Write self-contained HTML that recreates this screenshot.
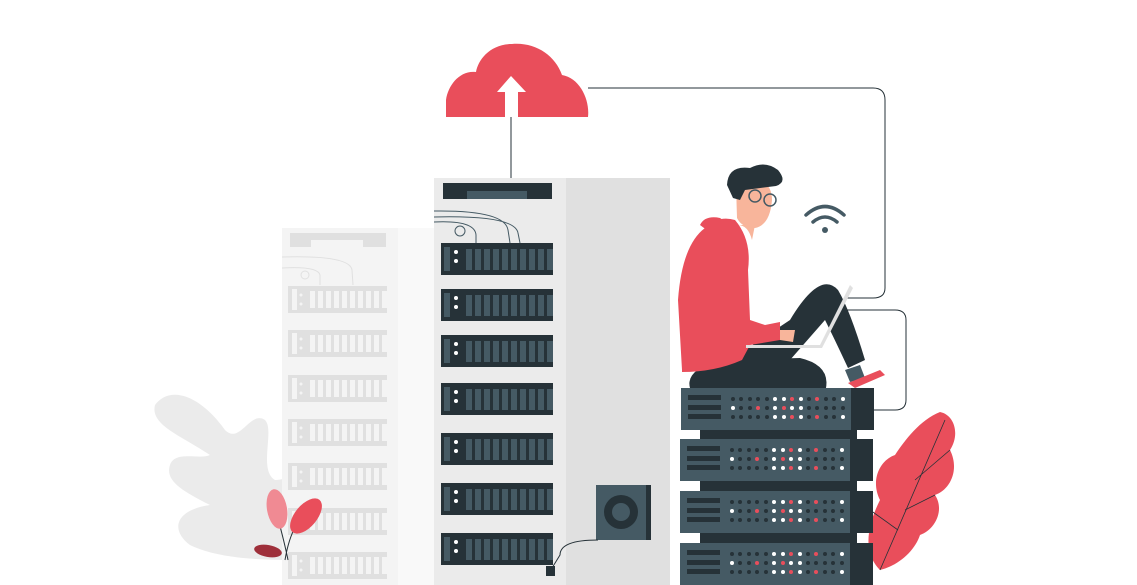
<!DOCTYPE html>
<html><head><meta charset="utf-8"><style>html,body{margin:0;padding:0;background:#fff}svg{display:block}</style></head>
<body>
<svg width="1137" height="585" viewBox="0 0 1137 585" xmlns="http://www.w3.org/2000/svg">
<defs>
<g id="fu">
<rect x="0" y="0" width="99" height="27" fill="#e0e0e0"/>
<rect x="4" y="3" width="5" height="21" fill="#f4f4f4"/>
<circle cx="13" cy="9" r="1.5" fill="#f4f4f4"/><circle cx="13" cy="18" r="1.5" fill="#f4f4f4"/>
<g fill="#f4f4f4"><rect x="22" y="5" width="5" height="17"/><rect x="30" y="5" width="5" height="17"/><rect x="38" y="5" width="5" height="17"/><rect x="46" y="5" width="5" height="17"/><rect x="54" y="5" width="5" height="17"/><rect x="62" y="5" width="5" height="17"/><rect x="70" y="5" width="5" height="17"/><rect x="78" y="5" width="5" height="17"/><rect x="86" y="5" width="5" height="17"/><rect x="94" y="5" width="5" height="17"/></g>
</g>
<g id="su">
<rect x="0" y="0" width="112" height="32" fill="#263238"/>
<rect x="3" y="4" width="6" height="24" fill="#455a64"/>
<circle cx="15" cy="9" r="2" fill="#fff"/><circle cx="15" cy="18" r="2" fill="#fff"/>
<g fill="#455a64"><rect x="25" y="6" width="6" height="21"/><rect x="34" y="6" width="6" height="21"/><rect x="43" y="6" width="6" height="21"/><rect x="52" y="6" width="6" height="21"/><rect x="61" y="6" width="6" height="21"/><rect x="70" y="6" width="6" height="21"/><rect x="79" y="6" width="6" height="21"/><rect x="88" y="6" width="6" height="21"/><rect x="97" y="6" width="6" height="21"/><rect x="106" y="6" width="6" height="21"/></g>
</g>
<g id="dotrow">
<circle cx="0" cy="0" r="2" fill="#263238"/><circle cx="8" cy="0" r="2" fill="#263238"/><circle cx="17" cy="0" r="2" fill="#263238"/><circle cx="25" cy="0" r="2" fill="#263238"/><circle cx="34" cy="0" r="2" fill="#263238"/><circle cx="42" cy="0" r="2" fill="#fff"/><circle cx="51" cy="0" r="2" fill="#fff"/><circle cx="59" cy="0" r="2" fill="#e94e5b"/><circle cx="68" cy="0" r="2" fill="#fff"/><circle cx="76" cy="0" r="2" fill="#263238"/><circle cx="84" cy="0" r="2" fill="#e94e5b"/><circle cx="93" cy="0" r="2" fill="#263238"/><circle cx="101" cy="0" r="2" fill="#263238"/><circle cx="110" cy="0" r="2" fill="#fff"/>
</g>
<g id="dotrow2">
<circle cx="0" cy="0" r="2" fill="#fff"/><circle cx="8" cy="0" r="2" fill="#263238"/><circle cx="17" cy="0" r="2" fill="#263238"/><circle cx="25" cy="0" r="2" fill="#e94e5b"/><circle cx="34" cy="0" r="2" fill="#263238"/><circle cx="42" cy="0" r="2" fill="#fff"/><circle cx="51" cy="0" r="2" fill="#e94e5b"/><circle cx="59" cy="0" r="2" fill="#fff"/><circle cx="68" cy="0" r="2" fill="#fff"/><circle cx="76" cy="0" r="2" fill="#263238"/><circle cx="84" cy="0" r="2" fill="#263238"/><circle cx="93" cy="0" r="2" fill="#263238"/><circle cx="101" cy="0" r="2" fill="#263238"/><circle cx="110" cy="0" r="2" fill="#263238"/>
</g>
<g id="ru">
<rect x="0" y="0" width="193" height="42" fill="#263238"/>
<rect x="0" y="0" width="170" height="42" fill="#455a64"/>
<rect x="7" y="7" width="33" height="5" fill="#263238"/><rect x="7" y="17" width="33" height="5" fill="#263238"/><rect x="7" y="26" width="33" height="5" fill="#263238"/>
<use href="#dotrow" x="52" y="11"/><use href="#dotrow2" x="52" y="20"/><use href="#dotrow" x="52" y="29"/>
</g>
</defs>

<!-- grey leaf -->
<path d="M155 405 C170 385 200 395 225 430 C240 445 250 410 265 420 C275 430 258 470 275 480 C290 480 290 470 300 470 L300 560 C270 560 220 560 190 545 C170 530 175 510 210 505 C180 490 165 480 170 465 C175 450 200 460 210 455 C180 435 150 425 155 405 Z" fill="#ebebeb"/>

<!-- faded tower -->
<rect x="282" y="228" width="116" height="357" fill="#f4f4f4"/>
<rect x="398" y="228" width="36" height="357" fill="#f9f9f9"/>
<rect x="290" y="233" width="96" height="14" fill="#e0e0e0"/>
<rect x="311" y="240" width="52" height="7" fill="#f4f4f4"/>
<path d="M282 257 Q350 255 352 270 L353 285 M282 268 Q318 266 320 275 L320 285" fill="none" stroke="#e0e0e0"/>
<circle cx="305" cy="275" r="4" fill="none" stroke="#e0e0e0"/>
<use href="#fu" x="288" y="286"/><use href="#fu" x="288" y="330"/><use href="#fu" x="288" y="375"/><use href="#fu" x="288" y="419"/><use href="#fu" x="288" y="463"/><use href="#fu" x="288" y="508"/><use href="#fu" x="288" y="552"/>

<!-- small plant -->
<path d="M288 560 C282 530 275 510 272 495" stroke="#263238" fill="none"/>
<path d="M285 560 C290 530 300 515 315 505" stroke="#263238" fill="none"/>
<ellipse cx="277" cy="509" rx="10" ry="20" transform="rotate(-10 277 509)" fill="#f08a93"/>
<ellipse cx="306" cy="516" rx="11" ry="21" transform="rotate(40 306 516)" fill="#e94e5b"/>
<ellipse cx="268" cy="551" rx="14" ry="6" transform="rotate(10 268 551)" fill="#9e2f3a"/>

<!-- main tower -->
<rect x="434" y="178" width="133" height="407" fill="#ebebeb"/>
<rect x="566" y="178" width="104" height="407" fill="#e0e0e0"/>
<rect x="443" y="183" width="109" height="16" fill="#263238"/>
<rect x="467" y="191" width="60" height="8" fill="#455a64"/>
<path d="M434 211 Q505 210 508 230 L510 243 M434 217 Q515 215 518 233 L520 243 M434 222 Q475 220 476 235 L476 243" fill="none" stroke="#455a64" stroke-width="1"/>
<circle cx="460" cy="231" r="5" fill="none" stroke="#455a64"/>
<use href="#su" x="441" y="243"/><use href="#su" x="441" y="289"/><use href="#su" x="441" y="335"/><use href="#su" x="441" y="383"/><use href="#su" x="441" y="433"/><use href="#su" x="441" y="483"/><use href="#su" x="441" y="533"/>

<!-- fan -->
<rect x="596" y="485" width="54" height="55" fill="#455a64"/>
<rect x="646" y="485" width="5" height="55" fill="#263238"/>
<circle cx="621" cy="512" r="17" fill="#263238"/><circle cx="621" cy="512" r="9" fill="#455a64"/>
<path d="M598 540 Q560 540 560 555 L552 568" fill="none" stroke="#263238"/>
<rect x="546" y="566" width="9" height="10" fill="#263238"/>

<!-- cloud -->
<path d="M446 117 L588 117 C590 100 580 78 562 75 C555 55 535 42 512 44 C490 44 478 60 476 72 C460 70 448 85 446 100 Z" fill="#e94e5b"/>
<path d="M511 76 L497 92 L505 92 L505 117 L518 117 L518 92 L526 92 Z" fill="#fff"/>
<line x1="511" y1="117" x2="511" y2="178" stroke="#263238"/>
<path d="M588 88 L873 88 Q885 88 885 100 L885 288 Q885 298 873 298 L845 298" fill="none" stroke="#263238" stroke-width="1"/>
<path d="M840 310 L895 310 Q906 310 906 320 L906 400 Q906 410 895 410 L873 410" fill="none" stroke="#263238" stroke-width="1"/>

<!-- wifi -->
<g fill="none" stroke="#455a64" stroke-width="3.5" stroke-linecap="round">
<path d="M806 215 Q825 198 844 215"/><path d="M813 222 Q825 212 837 222"/>
</g>
<circle cx="825" cy="230" r="3" fill="#455a64"/>

<!-- right red leaf -->
<path d="M880 570 C860 550 870 520 880 500 C870 480 880 460 895 455 C905 440 920 420 940 412 C955 415 960 435 950 450 C960 470 950 490 935 495 C945 510 935 530 920 535 C915 550 900 565 880 570 Z" fill="#e94e5b"/>
<path d="M880 570 L945 420 M905 510 L935 495 M915 480 L950 450 M898 530 L870 510" stroke="#263238" stroke-width="0.8" fill="none"/>

<!-- right server stack -->
<rect x="700" y="425" width="157" height="160" fill="#263238"/>
<use href="#ru" x="681" y="388"/><use href="#ru" x="680" y="439"/><use href="#ru" x="680" y="491"/><use href="#ru" x="680" y="543"/>

<!-- person -->
<path d="M690 388 Q685 370 720 360 L800 358 Q830 365 826 388 Z" fill="#263238"/>
<path d="M730 360 L790 320 Q820 270 838 290 Q850 310 865 360 L848 368 Q835 340 825 320 L790 360 Z" fill="#263238"/>
<path d="M682 370 L678 300 Q682 245 705 228 Q718 215 735 220 Q752 240 748 270 L750 320 L765 325 L780 322 L780 340 L750 345 L742 360 Q715 372 682 372 Z" fill="#e94e5b"/>
<path d="M700 225 Q705 215 720 218 L738 230 L720 240 Z" fill="#e94e5b"/>
<path d="M738 225 Q748 225 752 240 L755 225 Z" fill="#f8b59b"/>
<path d="M736 185 Q740 178 760 180 Q772 185 772 200 Q770 225 755 228 Q742 228 737 218 Z" fill="#f8b59b"/>
<path d="M727 185 Q728 165 750 168 Q765 160 778 170 Q788 182 776 186 L745 190 L740 200 L733 198 Z" fill="#263238"/>
<circle cx="755" cy="196" r="6" fill="none" stroke="#455a64" stroke-width="1.5"/>
<circle cx="770" cy="200" r="6" fill="none" stroke="#455a64" stroke-width="1.5"/>
<path d="M780 330 L795 330 L793 342 L780 340 Z" fill="#f8b59b"/>
<path d="M850 285 L820 345 L746 345 L746 348 L822 348 L853 288 Z" fill="#e0e0e0"/>
<path d="M845 370 L860 365 L865 378 L850 382 Z" fill="#455a64"/>
<path d="M848 383 L880 370 L885 375 L855 388 Z" fill="#e94e5b"/>
</svg>
</body></html>
